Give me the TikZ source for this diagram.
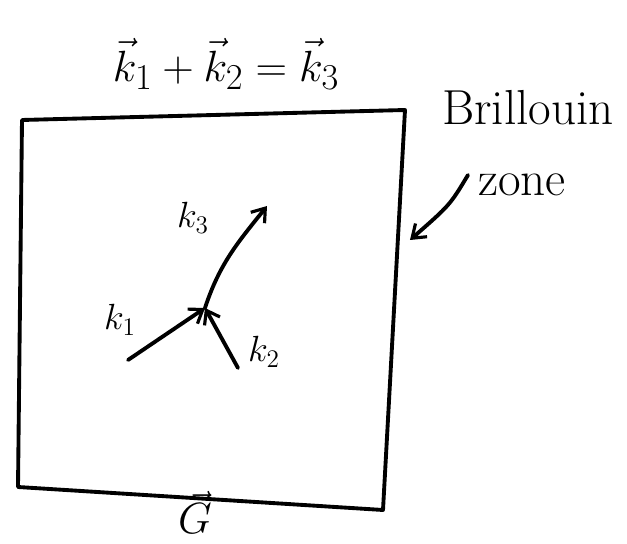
\documentclass[tikz,border=0pt]{standalone}
\usepackage{amsmath}
\usetikzlibrary{arrows.meta, positioning}
\tikzset{
  zonebox/.style={line width=2.2pt, line cap=round, line join=round},
  vecarrow/.style={line width=2.2pt, line cap=round, -{Straight Barb[length=7pt, width=10pt, line width=1.8pt]}},
  handlabel/.style={inner sep=0pt, font=\huge},
  bigtext/.style={inner sep=0pt, font=\fontsize{28}{32}\selectfont}
}

\begin{document}
\begin{tikzpicture}[x=0.02cm, y=-0.02cm]
    \useasboundingbox (0,0) rectangle (627,544);
    % the zone
    \coordinate (tl) at (22,120);
    \coordinate (tr) at (405,110);
    \coordinate (br) at (383,510);
    \coordinate (bl) at (18,487);
    \draw[zonebox] (tl) -- (tr) -- (br) -- (bl) -- cycle;

    % vectors inside
    \coordinate (meet) at (205,308);
    \coordinate (ka) at (128,360);
    \coordinate (kb) at (238,368);
    \coordinate (kc) at (267,206);
    \draw[vecarrow] (ka) -- (meet);
    \draw[vecarrow] (kb) -- (meet);
    \draw[vecarrow] (meet) .. controls (220,262) and (240,240) .. (kc);
    \node[handlabel] (lblka) at (120,320) {$k_1$};
    \node[handlabel] (lblkb) at (264,352) {$k_2$};
    \node[handlabel] (lblkc) at (193,218) {$k_3$};

    % labels outside
    \node[inner sep=0pt, font=\Huge] (sum) at (226,64) {$\vec{k}_1+\vec{k}_2=\vec{k}_3$};
    \node[inner sep=0pt, font=\Huge] (recip) at (195,512) {$\vec{G}$};
    \node[bigtext] (brill) at (528,108) {Brillouin};
    \node[bigtext] (zone) at (522,185) {zone};
    \coordinate (zonetip) at (410,240);
    \draw[vecarrow] (468,175) .. controls (450,205) .. (zonetip);
  \end{tikzpicture}
\end{document}
